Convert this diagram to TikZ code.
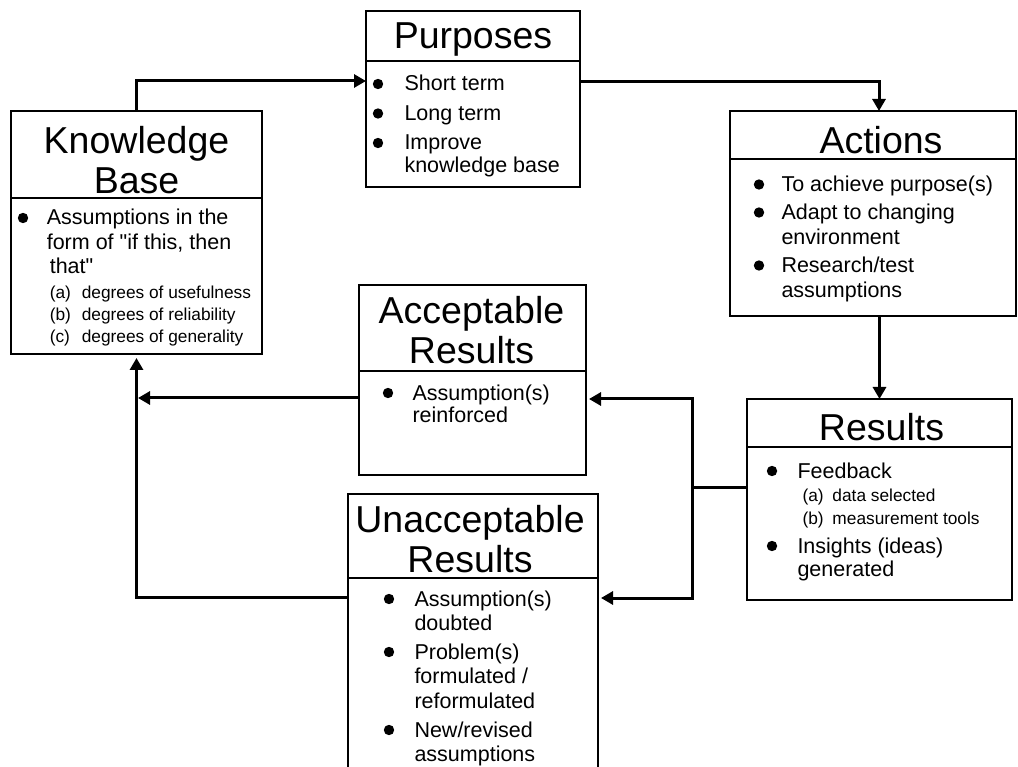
\documentclass[tikz,border=0pt]{standalone}
\usepackage{fontspec}
\setmainfont{Liberation Sans}
\newfontfamily\qfont{Liberation Sans}
\usetikzlibrary{arrows.meta,calc}
\newcommand{\bul}{\tikz[baseline=-7pt]\fill (0pt,0pt) circle (5.2pt);}
\newcommand{\sq}{{\qfont"}}
\newcommand{\titlefont}{\fontsize{37.5}{40}\selectfont}
\newcommand{\bodyfont}[1]{\fontsize{21.5}{#1}\selectfont}
\newcommand{\subfont}{\fontsize{17.3}{20}\selectfont}
\begin{document}
\begin{tikzpicture}[x=1pt,y=-1pt,
  box/.style={draw,line width=1.6pt,rectangle,inner sep=0pt,outer sep=0pt},
  divider/.style={line width=1.6pt},
  conn/.style={line width=3pt,-{Triangle[width=13pt,length=12pt]}},
  link/.style={line width=3pt},
  txt/.style={inner sep=0pt,outer sep=0pt,anchor=base west},
  ttl/.style={inner sep=0pt,outer sep=0pt,anchor=base,font=\titlefont}]
\useasboundingbox (0,0) rectangle (1018,767);
\fill[white] (0,0) rectangle (1018,767);
\clip (0,0) rectangle (1018,767);

% boxes
\node[box,minimum width=251pt,minimum height=243pt] (kb) at (136.5,232.5) {};
\node[box,minimum width=214pt,minimum height=176pt] (pur) at (473,99) {};
\node[box,minimum width=286pt,minimum height=205pt] (act) at (873,213.5) {};
\node[box,minimum width=227pt,minimum height=190pt] (acc) at (472.5,380) {};
\node[box,minimum width=265pt,minimum height=201pt] (res) at (879.5,499.5) {};
\node[box,minimum width=250pt,minimum height=296pt] (una) at (473,642) {};

% dividers
\draw[divider] ([yshift=-87pt]kb.north west) -- ([yshift=-87pt]kb.north east);
\draw[divider] ([yshift=-50pt]pur.north west) -- ([yshift=-50pt]pur.north east);
\draw[divider] ([yshift=-48pt]act.north west) -- ([yshift=-48pt]act.north east);
\draw[divider] ([yshift=-86pt]acc.north west) -- ([yshift=-86pt]acc.north east);
\draw[divider] ([yshift=-48pt]res.north west) -- ([yshift=-48pt]res.north east);
\draw[divider] ([yshift=-84pt]una.north west) -- ([yshift=-84pt]una.north east);

% titles
\node[ttl] (kb-title) at (136.5,154) {\begin{tabular}[t]{@{}c@{}}Knowledge\\Base\end{tabular}};
\node[ttl] (pur-title) at (473,48.5) {Purposes};
\node[ttl] (act-title) at (881,154) {Actions};
\node[ttl] (acc-title) at (471.5,324) {\begin{tabular}[t]{@{}c@{}}Acceptable\\Results\end{tabular}};
\node[ttl] (res-title) at (881.5,440) {Results};
\node[ttl] (una-title) at (470,532) {\begin{tabular}[t]{@{}c@{}}Unacceptable\\Results\end{tabular}};

% bodies
\node[txt] (pur-body) at (372.8,91) {\bodyfont{23}\begin{tabular}[t]{@{}p{31.7pt}@{}l@{}}
\bul & Short term\\[6.5pt]
\bul & Long term\\[6.5pt]
\bul & Improve\\
 & knowledge base
\end{tabular}};

\node[txt] (kb-body) at (17.8,225) {\bodyfont{24.5}\begin{tabular}[t]{@{}p{29pt}@{}l@{}}
\bul & Assumptions in the\\
 & form of \sq if this, then\\
 & \hspace*{3pt}that\sq\\[0.5pt]
 & \subfont\hspace*{3pt}\makebox[32pt][l]{(a)}degrees of usefulness\\[-2.5pt]
 & \subfont\hspace*{3pt}\makebox[32pt][l]{(b)}degrees of reliability\\[-2.5pt]
 & \subfont\hspace*{3pt}\makebox[32pt][l]{(c)}degrees of generality
\end{tabular}};

\node[txt] (act-body) at (753.8,191.5) {\bodyfont{25}\begin{tabular}[t]{@{}p{27.7pt}@{}l@{}}
\bul & To achieve purpose(s)\\[3pt]
\bul & Adapt to changing\\
 & environment\\[3pt]
\bul & Research/test\\
 & assumptions
\end{tabular}};

\node[txt] (acc-body) at (382.8,400) {\bodyfont{23}\begin{tabular}[t]{@{}p{29.7pt}@{}l@{}}
\bul & Assumption(s)\\
 & reinforced
\end{tabular}};

\node[txt] (res-body) at (766.8,478) {\bodyfont{23.5}\begin{tabular}[t]{@{}p{30.7pt}@{}l@{}}
\bul & Feedback\\[0.5pt]
 & \subfont\hspace*{5pt}\makebox[30pt][l]{(a)}data selected\\[-0.5pt]
 & \subfont\hspace*{5pt}\makebox[30pt][l]{(b)}measurement tools\\[4.5pt]
\bul & Insights (ideas)\\
 & generated
\end{tabular}};

\node[txt] (una-body) at (383.8,606) {\bodyfont{24.5}\begin{tabular}[t]{@{}p{30.7pt}@{}l@{}}
\bul & Assumption(s)\\
 & doubted\\[4pt]
\bul & Problem(s)\\
 & formulated /\\
 & reformulated\\[4.5pt]
\bul & New/revised\\
 & assumptions
\end{tabular}};

% connectors
\draw[conn] (kb.north) |- ([yshift=-70pt]pur.north west);
\draw[conn] ([yshift=-71pt]pur.north east) -| ([xshift=6pt]act.north);
\draw[conn] (act.south -| res.north) -- (res.north);
\coordinate (jn) at (692,487);
\draw[link] ([yshift=-88pt]res.north west) -- (jn);
\draw[conn] (jn) |- ([xshift=3pt,yshift=-114pt]acc.north east);
\draw[conn] (jn) |- ([xshift=3pt,yshift=-104pt]una.north east);
\coordinate (accw) at ([yshift=-113pt]acc.north west);
\draw[conn] (accw) -- ($(accw -| kb.south)+(1.5,0)$);
\draw[conn] ([yshift=-103pt]una.north west) -| ([yshift=-4pt]kb.south);
\end{tikzpicture}
\end{document}
